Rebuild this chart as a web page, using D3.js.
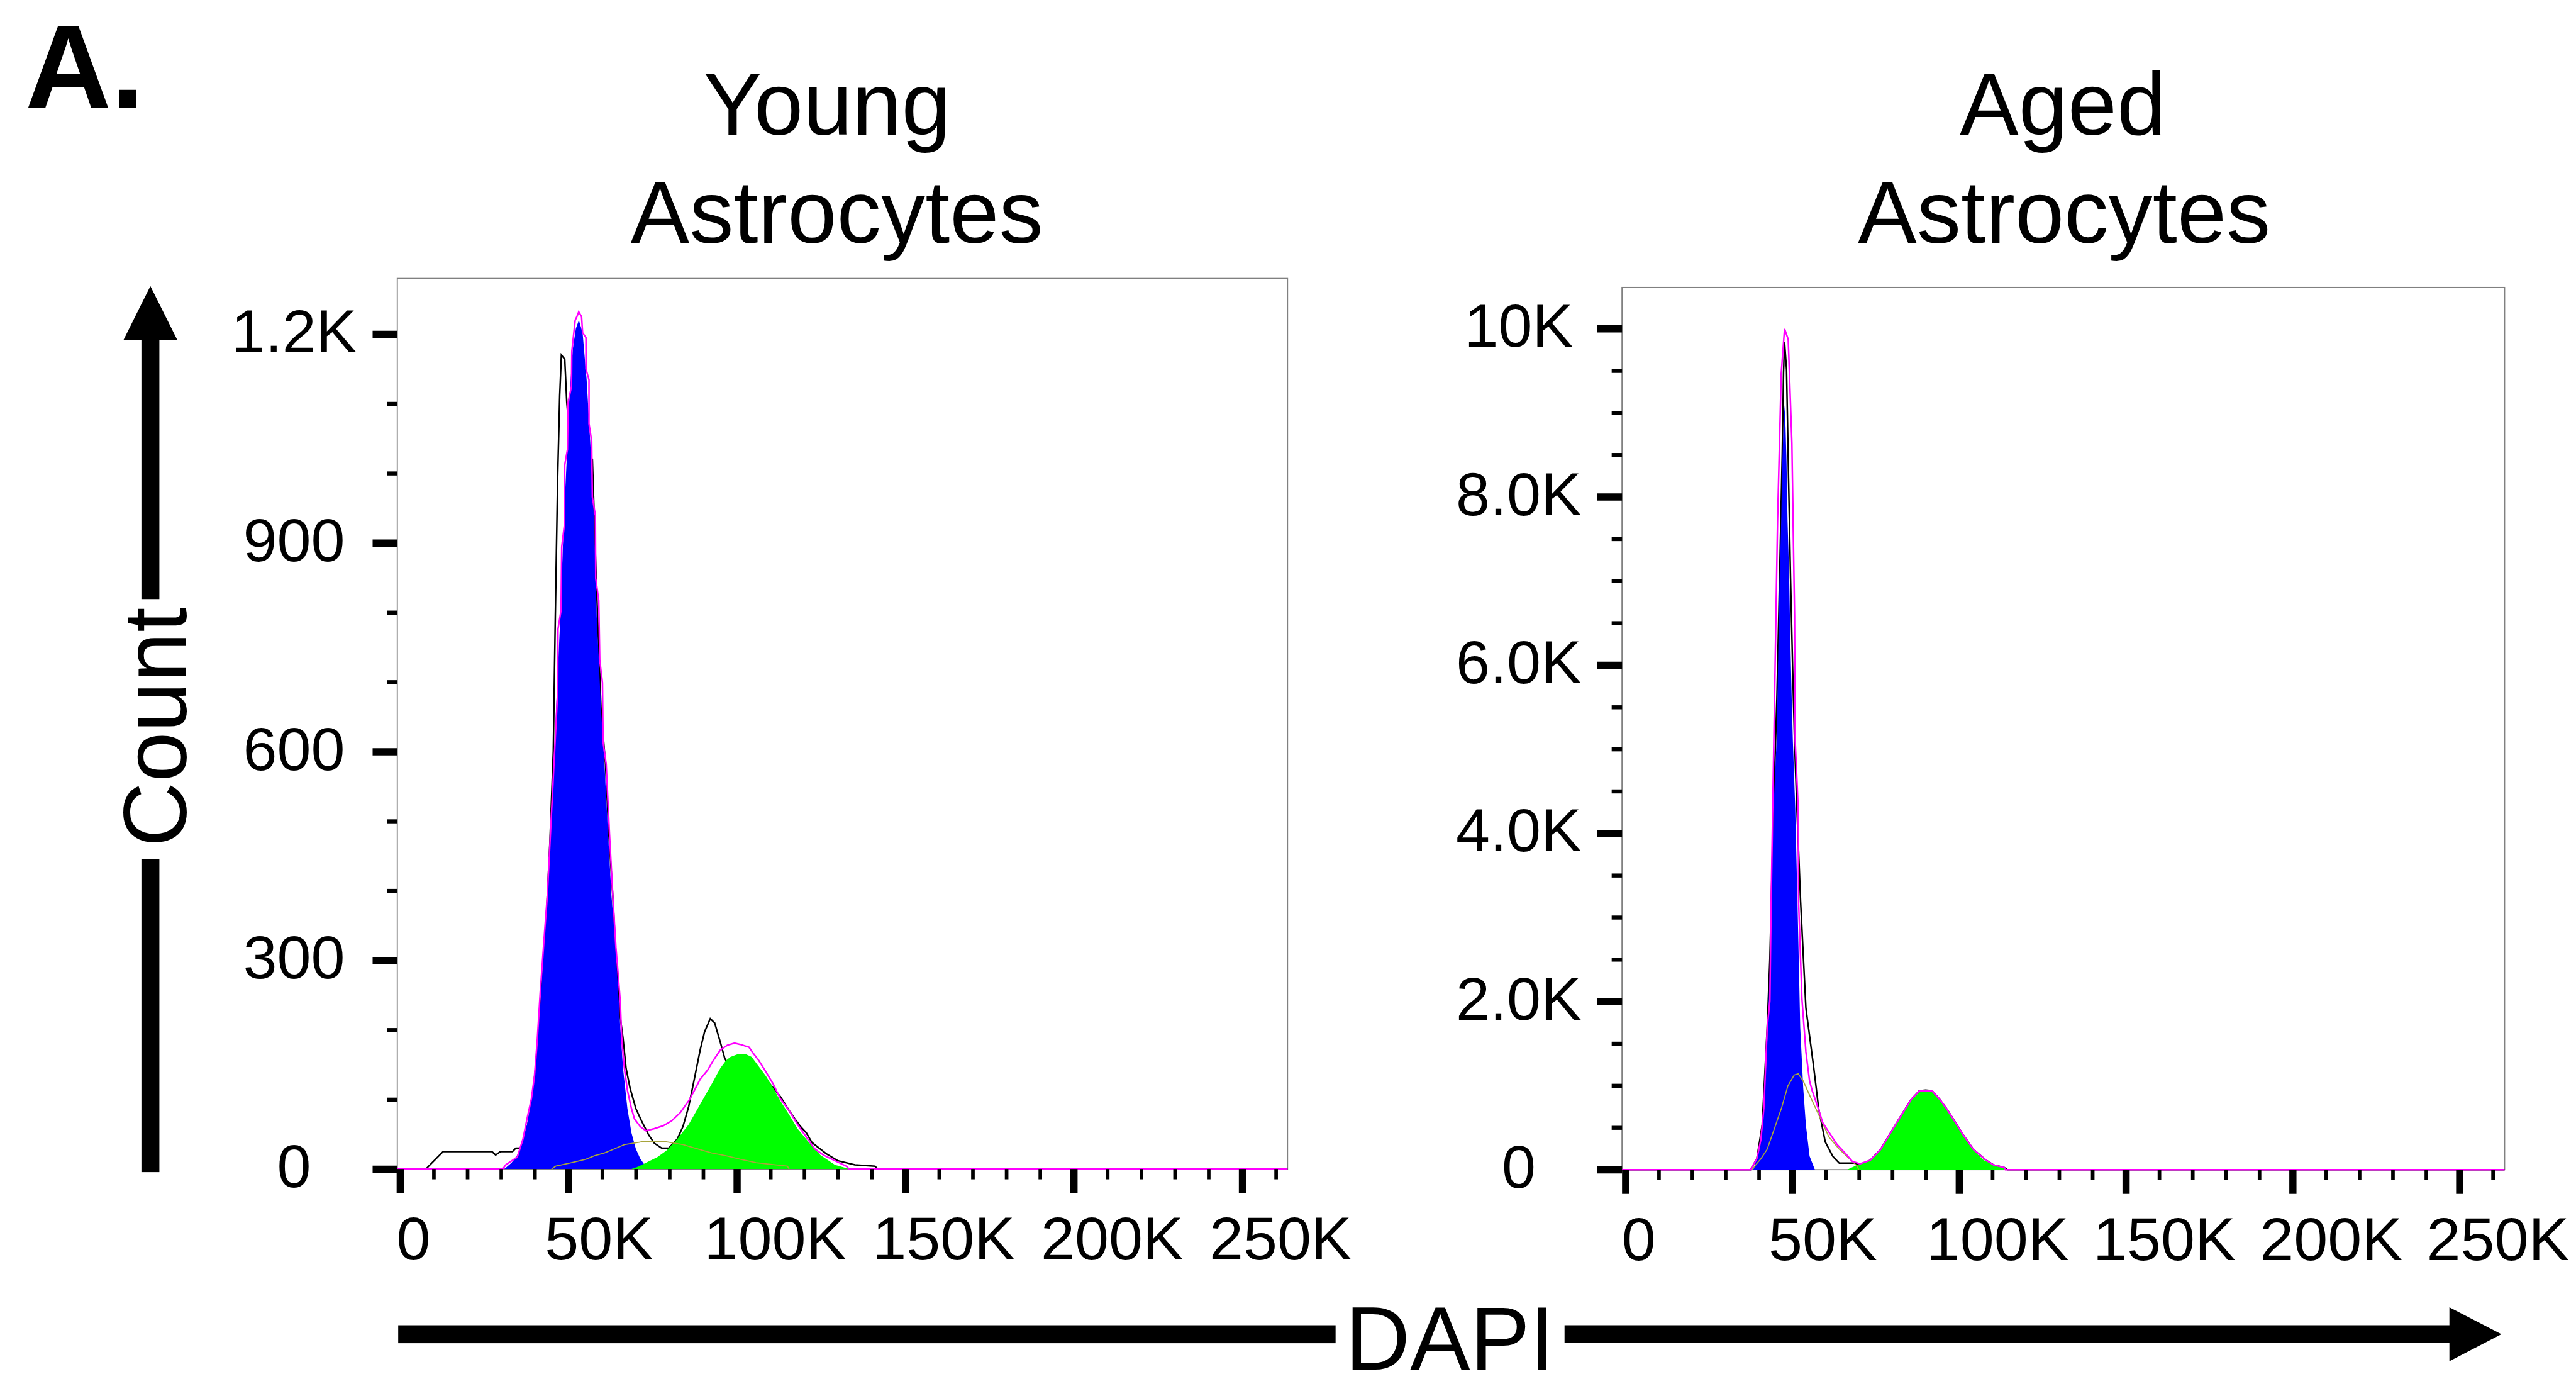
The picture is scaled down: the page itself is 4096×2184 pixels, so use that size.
<!DOCTYPE html>
<html>
<head>
<meta charset="utf-8">
<script src="https://cdn.jsdelivr.net/npm/d3@7"></script>
<style>
  html, body { margin: 0; padding: 0; background: #fff; }
  svg { display: block; font-family: "Liberation Sans", Arial, sans-serif; }
</style>
</head>
<body>
<svg id="chart"></svg>
<script>
// DAPI cell-cycle histograms
const xMajorTicks = [0, 50000, 100000, 150000, 200000, 250000]
const xTickLabels = ['0', '50K', '100K', '150K', '200K', '250K']
const xMinorTicks = d3.range(0, 260001, 10000).filter(v => v % 50000 !== 0)

const youngYTicks = [0, 300, 600, 900, 1200]
const youngYLabels = ['0', '300', '600', '900', '1.2K']
const youngYMinor = [100, 200, 400, 500, 700, 800, 1000, 1100]

const agedYTicks = [0, 2000, 4000, 6000, 8000, 10000]
const agedYLabels = ['0', '2.0K', '4.0K', '6.0K', '8.0K', '10K']
const agedYMinor = [500, 1000, 1500, 2500, 3000, 3500, 4500, 5000, 5500, 6500, 7000, 7500, 8500, 9000, 9500]

const youngTitle = ['Young', 'Astrocytes']
const agedTitle = ['Aged', 'Astrocytes']

// [DAPI, count]
const youngG1 = [[31000,0],[33100,9],[34800,20],[36500,43],[37700,64],[39000,101],[40300,145],[41100,203],[42000,260],[42800,333],[43700,391],[44700,487],[45700,582],[46300,658],[47600,794],[48600,930],[49500,1021],[50300,1111],[51300,1179],[52200,1208],[53100,1220],[54200,1202],[55400,1134],[56500,1043],[57600,930],[58400,794],[59700,658],[60700,582],[61700,487],[62800,391],[63700,340],[64500,275],[65400,203],[66200,145],[67500,87],[68700,52],[70000,29],[71300,15],[73000,3],[73800,0]]
const youngG2 = [[68700,0],[70500,3],[73000,9],[76400,17],[79000,26],[82300,43],[85700,64],[89100,93],[92500,122],[95100,145],[96800,156],[98100,161],[100200,165],[102700,165],[104400,161],[106100,150],[108700,133],[110800,116],[112900,98],[115500,78],[118000,58],[121400,38],[124800,20],[129100,6],[133300,0]]
const youngS = [[45000,0],[46200,4],[50900,9],[55200,14],[57700,19],[60700,23],[63700,29],[66600,35],[71700,39],[79000,39],[84000,35],[88300,29],[92500,23],[96800,19],[101000,14],[105700,9],[115000,4],[115500,0]]
const youngModel = [[-800,0],[30500,0],[31400,6],[34800,17],[36500,43],[37700,72],[39000,101],[39900,133],[40700,182],[41600,252],[42800,333],[43700,391],[45700,582],[46800,686],[46900,776],[47800,803],[48000,894],[48800,926],[48900,1012],[49700,1034],[49900,1102],[50900,1125],[51000,1175],[52000,1220],[52500,1225],[53050,1232],[53900,1225],[54200,1202],[55200,1195],[55200,1150],[56100,1134],[56100,1071],[56900,1046],[57100,966],[58000,939],[58100,849],[59000,817],[59300,731],[60100,699],[60300,613],[61200,582],[62200,480],[63200,390],[64100,318],[64500,295],[65400,240],[65800,188],[66600,145],[67500,113],[68700,87],[69600,72],[71300,61],[73000,55],[75500,58],[78100,62],[80600,69],[83200,81],[85700,98],[87400,113],[89100,129],[91300,142],[93000,156],[95100,171],[97200,178],[99300,181],[101000,179],[103600,175],[104900,166],[106500,156],[108700,139],[110800,122],[112900,101],[115500,84],[118000,64],[120600,46],[123100,29],[125700,20],[129100,12],[132500,4],[133300,0],[263460,0]]
const youngRaw = [[-800,0],[7700,0],[12800,25],[27300,25],[28400,20],[29800,25],[33400,25],[34400,30],[35700,30],[37000,40],[39000,90],[41000,180],[43000,320],[44500,470],[45500,600],[46100,794],[46800,994],[47400,1111],[47900,1170],[48900,1164],[49500,1102],[51000,1020],[53000,990],[55000,1000],[57100,1021],[58000,885],[58800,772],[59700,658],[61000,582],[62000,480],[63200,390],[64100,304],[65400,217],[66200,188],[67100,145],[68300,116],[70000,87],[71700,69],[73800,49],[75500,37],[77700,30],[79800,30],[82300,43],[84000,61],[85700,90],[87400,130],[89100,171],[90400,197],[92100,216],[93400,210],[95100,182],[96400,159],[98500,142],[101900,136],[106100,133],[109500,124],[112900,104],[115500,84],[117200,72],[118900,61],[120600,52],[122300,38],[126500,22],[129900,12],[135000,6],[141000,4],[141800,0],[263460,0]]

const agedG1 = [[38300,0],[39400,130],[40600,360],[41600,760],[42600,1600],[43300,2400],[43800,3300],[44400,4300],[45300,5090],[45600,5670],[45900,6350],[46200,7030],[46700,7710],[47000,8390],[47400,8830],[47700,9090],[48000,8830],[48300,8390],[48600,7710],[49100,7030],[49400,6350],[49800,5670],[50200,5090],[50900,4300],[51600,3140],[52400,1690],[53300,970],[54100,530],[55200,160],[56800,0]]
const agedG2 = [[66400,0],[69500,55],[73400,113],[76500,241],[79600,432],[82700,634],[85700,822],[88100,923],[90000,938],[91900,923],[94200,822],[96600,692],[98900,547],[101200,403],[104300,230],[107400,113],[110400,55],[113500,14],[113900,0]]
const agedS = [[38000,0],[38700,41],[40600,128],[42500,243],[44800,504],[46800,735],[48700,996],[50600,1126],[51800,1140],[53300,1054],[55600,851],[58000,648],[61000,388],[64100,243],[67200,128],[69500,41],[69900,0]]
const agedModel = [[-1020,0],[37500,0],[39400,130],[40600,359],[41500,735],[42500,1690],[43300,2009],[43700,3224],[44600,5360],[45600,7709],[46700,9463],[47700,9997],[48800,9871],[49900,8645],[50700,6585],[50900,5094],[51800,4295],[51900,3195],[52900,2038],[54100,1401],[55200,1054],[56000,938],[58000,706],[59100,562],[61000,446],[63400,301],[66100,186],[68000,99],[70300,70],[73400,113],[76500,241],[79600,446],[82700,648],[85700,837],[88100,938],[91900,938],[94200,837],[96600,706],[98900,562],[101200,417],[104300,241],[108100,113],[110400,55],[113500,27],[113900,0],[263530,0]]
const agedRaw = [[-1020,0],[37500,0],[39400,130],[41000,533],[42500,1690],[43300,2500],[44400,4295],[45400,5600],[46200,7000],[47000,8500],[47400,9480],[47700,9837],[48300,9514],[48900,8220],[49500,7028],[50100,6007],[50700,5094],[51400,4295],[52500,3195],[54100,1922],[56400,1227],[58000,706],[59900,330],[62200,156],[64100,78],[68800,78],[70300,55],[73400,113],[76500,241],[79600,446],[82700,648],[85700,837],[88100,938],[90000,945],[91900,938],[94200,837],[96600,706],[98900,562],[101200,417],[104300,241],[108100,113],[110400,55],[113500,27],[114500,0],[263530,0]]

// everything below is laid out in reference pixels and scaled down by S
const S = 4096 / 5738
const svg = d3.select('#chart').attr('width', 4096).attr('height', 2184)
const root = svg.append('g').attr('transform', `scale(${S})`)

const panels = [
    {left: 885, right: 2868, top: 620, bottom: 2603, xDom: [-800, 263460], yMax: 1280,
     titleX: [1842, 1864],
     yTicks: youngYTicks, yLabels: youngYLabels, yMinor: youngYMinor, title: youngTitle,
     g1: youngG1, g2: youngG2, s: youngS, model: youngModel, raw: youngRaw},
    {left: 3613, right: 5579, top: 640, bottom: 2604.5, xDom: [-1020, 263530], yMax: 10490,
     titleX: [4595, 4598],
     yTicks: agedYTicks, yLabels: agedYLabels, yMinor: agedYMinor, title: agedTitle,
     g1: agedG1, g2: agedG2, s: agedS, model: agedModel, raw: agedRaw}
]

const drawPanel = p => {
    const x = d3.scaleLinear().domain(p.xDom).range([p.left, p.right])
    const y = d3.scaleLinear().domain([0, p.yMax]).range([p.bottom, p.top])
    const g = root.append('g')

    g.append('text')
        .attr('text-anchor', 'middle')
        .attr('font-size', 197)
        .selectAll('tspan').data(p.title).enter().append('tspan')
            .attr('x', (d, i) => p.titleX[i])
            .attr('y', (d, i) => 300 + i * 241)
            .text(d => d)

    g.append('rect')
        .attr('x', p.left).attr('y', p.top)
        .attr('width', p.right - p.left).attr('height', p.bottom - p.top)
        .attr('fill', '#fff').attr('stroke', '#808080').attr('stroke-width', 2.5)

    const area = d3.area().x(d => x(d[0])).y0(y(0)).y1(d => y(d[1]))
    const line = d3.line().x(d => x(d[0])).y(d => y(d[1]))

    g.append('path').datum(p.raw).attr('d', line)
        .attr('fill', 'none').attr('stroke', '#000').attr('stroke-width', 3.5)
    g.append('path').datum(p.g1).attr('d', area).attr('fill', '#0000ff')
    g.append('path').datum(p.g2).attr('d', area).attr('fill', '#00ff00')
    g.append('path').datum(p.s).attr('d', line)
        .attr('fill', 'none').attr('stroke', '#a8a43c').attr('stroke-width', 2.5)
    g.append('path').datum(p.model).attr('d', line)
        .attr('fill', 'none').attr('stroke', '#ff00ff').attr('stroke-width', 3.5)

    // x axis
    const xMinorAxis = g.append('g').attr('transform', `translate(0,${p.bottom})`)
        .call(d3.axisBottom(x).tickValues(xMinorTicks).tickSize(23).tickFormat(''))
    xMinorAxis.selectAll('line').attr('stroke', '#000').attr('stroke-width', 8)
    const xAxis = g.append('g').attr('transform', `translate(0,${p.bottom})`)
        .call(d3.axisBottom(x).tickValues(xMajorTicks).tickSize(54).tickFormat((d, i) => xTickLabels[i]))
    xAxis.selectAll('line').attr('stroke', '#000').attr('stroke-width', 16)
    xAxis.selectAll('text')
        .attr('font-size', 136).attr('font-family', '"Liberation Sans", Arial, sans-serif')
        .attr('fill', '#000').attr('y', 202).attr('dy', 0)
        .attr('text-anchor', 'middle')
        .attr('x', function () { return 12 + 0.23 * this.getComputedTextLength() })

    // y axis
    const yMinorAxis = g.append('g').attr('transform', `translate(${p.left},0)`)
        .call(d3.axisLeft(y).tickValues(p.yMinor).tickSize(23).tickFormat(''))
    yMinorAxis.selectAll('line').attr('stroke', '#000').attr('stroke-width', 9)
    const yAxis = g.append('g').attr('transform', `translate(${p.left},0)`)
        .call(d3.axisLeft(y).tickValues(p.yTicks).tickSize(55).tickFormat((d, i) => p.yLabels[i]))
    yAxis.selectAll('line').attr('stroke', '#000').attr('stroke-width', 16)
    yAxis.selectAll('text')
        .attr('font-size', 136).attr('font-family', '"Liberation Sans", Arial, sans-serif')
        .attr('fill', '#000').attr('text-anchor', 'middle')
        .attr('x', -230).attr('y', 40).attr('dy', 0)

    g.selectAll('.domain').remove()
}

panels.forEach(drawPanel)

// panel letter
root.append('text')
    .attr('x', 56).attr('y', 240)
    .attr('font-size', 266).attr('font-weight', 'bold')
    .text('A.')

// Count arrow (vertical)
root.append('path')
    .attr('d', 'M335,637 L395,757 L355,757 L355,1334 L315,1334 L315,757 L275,757 Z')
    .attr('fill', '#000')
root.append('rect').attr('x', 315).attr('y', 1913).attr('width', 40).attr('height', 697).attr('fill', '#000')
root.append('text')
    .attr('transform', 'translate(414,1619) rotate(-90)')
    .attr('text-anchor', 'middle')
    .attr('font-size', 200)
    .text('Count')

// DAPI arrow (horizontal)
root.append('rect').attr('x', 887).attr('y', 2951).attr('width', 2088).attr('height', 40).attr('fill', '#000')
root.append('path')
    .attr('d', 'M3485,2951 L5456,2951 L5456,2911 L5572,2971 L5456,3031 L5456,2991 L3485,2991 Z')
    .attr('fill', '#000')
root.append('text')
    .attr('x', 3230).attr('y', 3050)
    .attr('text-anchor', 'middle')
    .attr('font-size', 200)
    .text('DAPI')
</script>
</body>
</html>
